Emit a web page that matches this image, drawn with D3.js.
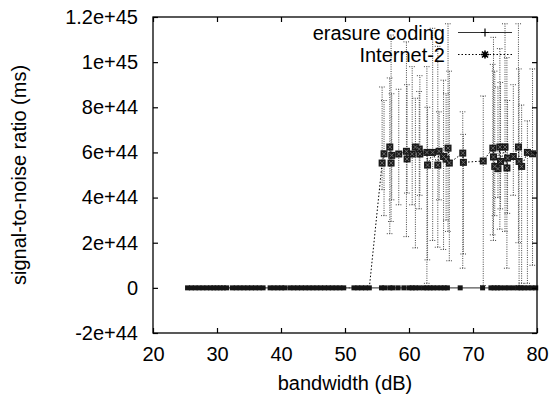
<!DOCTYPE html>
<html>
<head>
<meta charset="utf-8">
<script src="https://cdn.jsdelivr.net/npm/d3@7"></script>
<style>
  body { margin: 0; background: #fff; }
  svg { display: block; font-family: "Liberation Sans", Arial, Helvetica, sans-serif; }
</style>
</head>
<body>
<svg id="chart" width="554" height="397"></svg>
<script>
// tick labels as gnuplot prints them
const xTicks = [20, 30, 40, 50, 60, 70, 80];
const yTicks = [-2e44, 0, 2e44, 4e44, 6e44, 8e44, 1e45, 1.2e45];
const yTickLabels = ['-2e+44', '0', '2e+44', '4e+44', '6e+44', '8e+44', '1e+45', '1.2e+45'];

// x positions where both series sit at zero
const zeroX = [25.4, 26.0, 26.6, 27.2, 27.8, 28.4, 29.0, 29.5, 30.0, 30.5, 31.0, 31.5,
  32.4, 33.0, 33.6, 34.2, 34.8, 35.4, 36.0, 36.6, 37.2, 38.3, 38.9, 39.5, 40.1, 40.6,
  41.4, 42.0, 42.6, 43.2, 43.8, 44.4, 45.0, 45.6, 46.2, 46.8, 47.4, 48.0, 48.6, 49.2,
  49.8, 51.4, 52.0, 52.6, 53.2, 53.8];

// erasure coding keeps going at zero past 54 dB
const erasureTailX = [55.7, 56.2, 57.0, 57.5, 58.3, 59.2, 60.0, 60.5, 61.0, 61.6, 62.3,
  62.8, 63.3, 63.8, 64.4, 65.0, 65.5, 66.0, 68.0, 71.5, 72.8, 73.3, 73.8, 74.3, 75.0,
  75.6, 76.3, 77.0, 77.5, 78.0, 78.6, 79.2, 79.8];

// Internet-2 above 54 dB: mean with error bar low / high
const i2X = [55.8, 56.1, 57.0, 57.2, 57.3, 58.4, 59.6, 59.7, 60.5, 61.0, 61.6, 61.7, 62.8,
  62.9, 63.7, 64.5, 64.7, 65.4, 65.8, 66.1, 66.3, 68.4, 68.5, 71.6, 73.1, 73.2, 73.4,
  73.9, 74.2, 74.3, 75.0, 75.3, 75.4, 76.3, 77.1, 77.2, 77.6, 78.5, 79.3];
const i2Y = [5.53e44, 5.94e44, 6.24e44, 5.53e44, 5.87e44, 5.93e44, 6.05e44, 5.71e44, 5.93e44,
  6.24e44, 6.15e44, 5.93e44, 6.0e44, 5.44e44, 6.0e44, 5.44e44, 6.05e44, 5.82e44, 5.7e44,
  6.19e44, 5.53e44, 5.97e44, 5.56e44, 5.62e44, 6.19e44, 5.8e44, 5.38e44, 5.28e44, 6.24e44,
  5.6e44, 6.24e44, 5.31e44, 5.75e44, 5.82e44, 6.24e44, 5.6e44, 5.38e44, 6.0e44, 5.94e44];
const i2Low = [4.35e44, 3.2e44, 2.4e44, 2.94e44, 3.9e44, 3.68e44, 2.27e44, 4.2e44, 3.68e44,
  1.77e44, 3.5e44, 4.1e44, 0.2e44, 1.24e44, 2.1e44, 1.8e44, 3.9e44, 1.7e44, 3.0e44, 2.5e44,
  1.2e44, 0.87e44, 1.5e44, 0.1e44, 2.35e44, 2.1e44, 3.2e44, 4.0e44, 2.6e44, 3.5e44, 2.5e44,
  0.87e44, 3.3e44, 4.1e44, 2.0e44, 0.1e44, 0.2e44, 0.2e44, 1.0e44];
const i2High = [8.9e44, 8.3e44, 9.3e44, 11.2e44, 8.6e44, 8.8e44, 10.9e44, 9.0e44, 9.8e44,
  8.4e44, 8.7e44, 9.4e44, 9.8e44, 8.0e44, 11.5e44, 10.7e44, 7.8e44, 9.2e44, 8.6e44, 11.7e44,
  9.6e44, 7.8e44, 6.8e44, 8.5e44, 9.9e44, 11.1e44, 9.6e44, 8.9e44, 10.6e44, 9.1e44, 11.7e44,
  10.2e44, 8.3e44, 9.0e44, 11.7e44, 9.7e44, 8.1e44, 7.4e44, 9.7e44];

const seriesNames = ['erasure coding', 'Internet-2'];

const svg = d3.select('#chart');
const plotL = 153, plotR = 537, plotT = 17, plotB = 333;

const x = d3.scaleLinear().domain([20, 80]).range([plotL, plotR]);
const y = d3.scaleLinear().domain([-2e44, 1.2e45]).range([plotB, plotT]);

const erasure = zeroX.concat(erasureTailX).map(v => ({ x: v, y: 0 }));
const i2Zero = zeroX.map(v => ({ x: v, y: 0 }));
const i2Up = i2X.map((v, i) => ({ x: v, y: i2Y[i], lo: i2Low[i], hi: i2High[i] }));
const internet2 = i2Zero.concat(i2Up);

// error bars
const bars = svg.append('g').attr('class', 'errorbars')
  .attr('stroke', '#444').attr('stroke-width', 1).attr('stroke-dasharray', '1,1.3').attr('fill', 'none');
bars.selectAll('line.v').data(i2Up).enter().append('line').attr('class', 'v')
  .attr('x1', d => x(d.x)).attr('x2', d => x(d.x))
  .attr('y1', d => y(d.lo)).attr('y2', d => y(d.hi));
bars.selectAll('line.lo').data(i2Up).enter().append('line').attr('class', 'lo')
  .attr('x1', d => x(d.x) - 3).attr('x2', d => x(d.x) + 3)
  .attr('y1', d => y(d.lo)).attr('y2', d => y(d.lo));
bars.selectAll('line.hi').data(i2Up).enter().append('line').attr('class', 'hi')
  .attr('x1', d => x(d.x) - 3).attr('x2', d => x(d.x) + 3)
  .attr('y1', d => y(d.hi)).attr('y2', d => y(d.hi));

const line = d3.line().x(d => x(d.x)).y(d => y(d.y));

svg.append('path').datum(internet2)
  .attr('d', line).attr('fill', 'none')
  .attr('stroke', '#000').attr('stroke-width', 1).attr('stroke-dasharray', '1.5,2');

svg.append('path').datum(erasure)
  .attr('d', line).attr('fill', 'none')
  .attr('stroke', '#555').attr('stroke-width', 1.3);

// point markers
svg.append('g').selectAll('rect').data(erasure).enter().append('rect')
  .attr('x', d => x(d.x) - 2.5).attr('y', d => y(d.y) - 2.5)
  .attr('width', 5).attr('height', 5).attr('fill', '#151515');

const up = svg.append('g');
up.selectAll('rect').data(i2Up).enter().append('rect')
  .attr('x', d => x(d.x) - 3.5).attr('y', d => y(d.y) - 3.5)
  .attr('width', 7).attr('height', 7).attr('fill', '#1a1a1a');
up.selectAll('path').data(i2Up).enter().append('path')
  .attr('d', d => {
    const cx = x(d.x), cy = y(d.y), r = 2;
    return `M${cx - r},${cy - r}L${cx + r},${cy + r}M${cx - r},${cy + r}L${cx + r},${cy - r}`;
  })
  .attr('stroke', '#777').attr('stroke-width', 0.8);

// axes, ticks pointing inward and mirrored
const fmtY = v => yTickLabels[yTicks.indexOf(v)];
const fs = '20px';

const gl = svg.append('g').attr('transform', `translate(${plotL},0)`)
  .call(d3.axisLeft(y).tickValues(yTicks).tickFormat(fmtY).tickSizeInner(-5).tickSizeOuter(0).tickPadding(15));
const gb = svg.append('g').attr('transform', `translate(0,${plotB})`)
  .call(d3.axisBottom(x).tickValues(xTicks).tickFormat(d3.format('d')).tickSizeInner(-5).tickSizeOuter(0).tickPadding(14));
const gr = svg.append('g').attr('transform', `translate(${plotR},0)`)
  .call(d3.axisRight(y).tickValues(yTicks).tickFormat('').tickSizeInner(-5).tickSizeOuter(0));
const gt = svg.append('g').attr('transform', `translate(0,${plotT})`)
  .call(d3.axisTop(x).tickValues(xTicks).tickFormat('').tickSizeInner(-5).tickSizeOuter(0));

[gl, gb, gr, gt].forEach(g => {
  g.select('.domain').remove();
  g.selectAll('line').attr('stroke', '#000').attr('stroke-width', 1.2);
  g.selectAll('text').attr('font-size', fs).attr('font-family', null).attr('fill', '#000');
});

svg.append('rect')
  .attr('x', plotL).attr('y', plotT).attr('width', plotR - plotL).attr('height', plotB - plotT)
  .attr('fill', 'none').attr('stroke', '#000').attr('stroke-width', 1.3);

// axis titles
svg.append('text').attr('x', (plotL + plotR) / 2).attr('y', 390)
  .attr('text-anchor', 'middle').attr('font-size', fs).text('bandwidth (dB)');
svg.append('text').attr('transform', 'translate(25.5,175) rotate(-90)')
  .attr('text-anchor', 'middle').attr('font-size', fs).text('signal-to-noise ratio (ms)');

// legend
const legend = svg.append('g');
const legY = [32.5, 54.5];
seriesNames.forEach((name, i) => {
  legend.append('text').attr('x', 445).attr('y', legY[i] + 7)
    .attr('text-anchor', 'end').attr('font-size', fs).text(name);
  legend.append('line').attr('x1', 458).attr('x2', 512).attr('y1', legY[i]).attr('y2', legY[i])
    .attr('stroke', i === 0 ? '#333' : '#000').attr('stroke-width', 1.2)
    .attr('stroke-dasharray', i === 0 ? null : '1.5,2');
});
legend.append('path')
  .attr('d', `M481,${legY[0]}h8M485,${legY[0] - 4}v8`)
  .attr('stroke', '#000').attr('stroke-width', 1.2);
legend.append('path')
  .attr('d', `M481,${legY[1]}h8M485,${legY[1] - 4}v8M482,${legY[1] - 3}l6,6M482,${legY[1] + 3}l6,-6`)
  .attr('stroke', '#000').attr('stroke-width', 1.6);
</script>
</body>
</html>
